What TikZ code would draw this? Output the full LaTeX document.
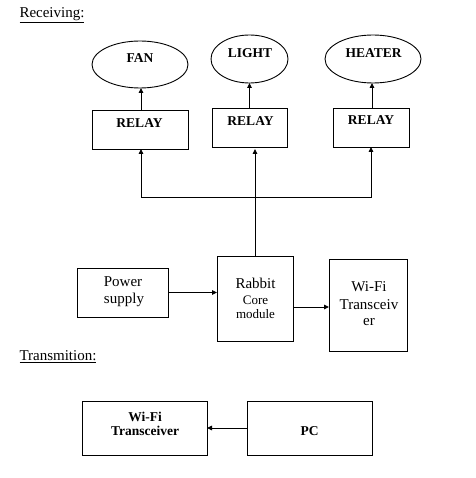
\documentclass[tikz,border=0pt]{standalone}
\usepackage{fontspec}
\setmainfont{Liberation Serif}
\usetikzlibrary{shapes.geometric,arrows.meta}
\begin{document}
\begin{tikzpicture}[x=1pt,y=-1pt,
  every node/.style={inner sep=0pt, outer sep=0pt},
  boxn/.style={draw, line width=0.9pt, rectangle},
  elln/.style={draw, line width=0.9pt, ellipse},
  arr/.style={line width=0.9pt, -{Triangle[length=5pt,width=4.5pt]}},
  lab/.style={anchor=base, font=\fontsize{15}{17}\selectfont},
  blab/.style={anchor=base, font=\fontsize{13.5}{15}\selectfont\bfseries},
  slab/.style={anchor=base, font=\fontsize{13}{15}\selectfont}]
\useasboundingbox (0,0) rectangle (475,478);
% headings
\node[anchor=base west, font=\fontsize{15}{17}\selectfont] (hrec) at (19.5,18) {\underline{Receiving:}};
\node[anchor=base west, font=\fontsize{15}{17}\selectfont] (htra) at (19.5,360.7) {\underline{Transmition:}};
% ellipses
\node[elln, minimum width=96pt, minimum height=47pt] (fan) at (140,64.5) {};
\node[elln, minimum width=77pt, minimum height=48pt] (light) at (249.5,59) {};
\node[elln, minimum width=96pt, minimum height=48pt] (heater) at (373,59) {};
\node[blab] (tfan) at (140,62.3) {FAN};
\node[blab] (tlight) at (250,57.3) {LIGHT};
\node[blab] (theater) at (373.5,57.3) {HEATER};
% relays
\node[boxn, minimum width=96pt, minimum height=39pt] (r1) at (140,129.5) {};
\node[boxn, minimum width=75pt, minimum height=39pt] (r2) at (249.5,127.5) {};
\node[boxn, minimum width=76pt, minimum height=39pt] (r3) at (371,127.5) {};
\node[blab] (tr1) at (139.5,127.7) {RELAY};
\node[blab] (tr2) at (250.5,126) {RELAY};
\node[blab] (tr3) at (371,125) {RELAY};
% middle blocks
\node[boxn, minimum width=91pt, minimum height=49pt] (power) at (122.5,292.5) {};
\node[boxn, minimum width=76pt, minimum height=85pt] (rabbit) at (255,298.5) {};
\node[boxn, minimum width=78pt, minimum height=92pt] (wifi) at (368,305) {};
\node[lab] (tpow1) at (123,286.7) {Power};
\node[lab] (tpow2) at (124,303.3) {supply};
\node[lab] (trab1) at (255.5,288.3) {Rabbit};
\node[slab] (trab2) at (255.5,304.3) {Core};
\node[slab] (trab3) at (255.5,318.3) {module};
\node[lab] (twf1) at (369,291.7) {Wi-Fi};
\node[lab] (twf2) at (369,309) {Transceiv};
\node[lab] (twf3) at (369,325.7) {er};
% transmission blocks
\node[boxn, minimum width=125pt, minimum height=54pt] (twifi) at (144.5,428) {};
\node[boxn, minimum width=125pt, minimum height=54pt] (pc) at (309.5,428) {};
\node[blab] (ttw1) at (145,421) {Wi-Fi};
\node[blab] (ttw2) at (145,435) {Transceiver};
\node[blab] (tpc) at (309.5,435) {PC};
% connectors
\coordinate (a1) at ([xshift=1pt]r1.north);
\draw[arr] (a1) -- (a1 |- fan.south);
\draw[arr] (r2.north) -- (light.south);
\coordinate (a3) at ([xshift=1pt]r3.north);
\draw[arr] (a3) -- (a3 |- heater.south);
\coordinate (bj) at (rabbit.north |- 0,197);
\draw[arr] (rabbit.north) -- (rabbit.north |- r1.south);
\draw[arr] (bj) -| (a1 |- r1.south);
\draw[arr] (bj) -| (r3.south);
\draw[arr] (power.east) -- (power.east -| rabbit.west);
\coordinate (rw) at ([yshift=-8.5pt]rabbit.east);
\draw[arr] (rw) -- (rw -| wifi.west);
\draw[arr] (pc.west) -- (twifi.east);
\end{tikzpicture}
\end{document}
